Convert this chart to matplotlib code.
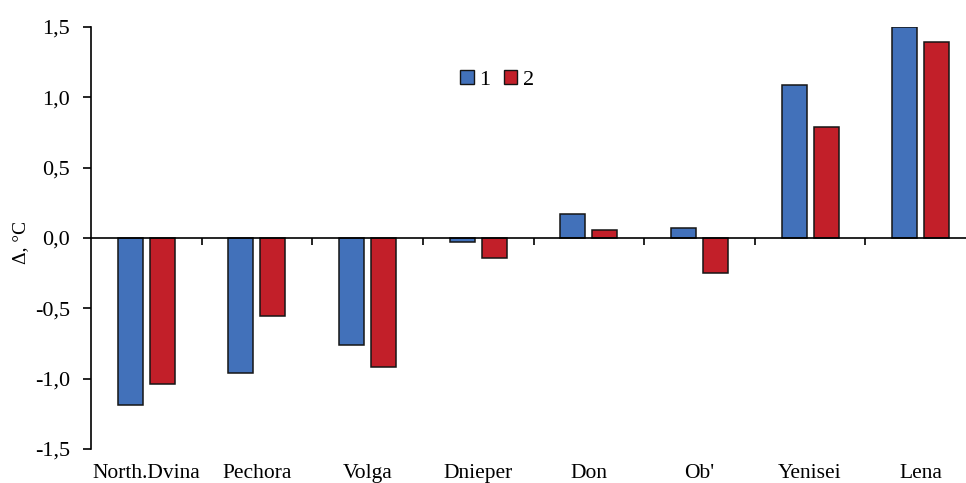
import matplotlib
matplotlib.use("Agg")
import matplotlib.pyplot as plt
import numpy as np
from matplotlib.patches import Patch

# River basins and temperature anomalies (°C) for the two periods
rivers = ["North.Dvina", "Pechora", "Volga", "Dnieper", "Don", "Ob'", "Yenisei", "Lena"]
series_1 = [-1.19, -0.96, -0.76, -0.03, 0.17, 0.07, 1.09, 1.50]
series_2 = [-1.04, -0.555, -0.92, -0.14, 0.06, -0.25, 0.79, 1.39]
series_names = ["1", "2"]
y_ticks = [-1.5, -1.0, -0.5, 0.0, 0.5, 1.0, 1.5]
y_tick_labels = ["-1,5", "-1,0", "-0,5", "0,0", "0,5", "1,0", "1,5"]

plt.rcParams["font.family"] = ["Liberation Serif", "DejaVu Serif"]

blue = "#4271BA"
red = "#C21F29"

fig = plt.figure(figsize=(9.66, 4.83), dpi=100)
ax = fig.add_axes([91 / 966, 34 / 483, 885 / 966, 422 / 483])

n = len(rivers)
centers = np.arange(n) + 0.5
w = 0.226
off = 0.145
ax.bar(centers - off, series_1, width=w, color=blue, edgecolor="#151515", linewidth=1.1, zorder=3)
ax.bar(centers + off, series_2, width=w, color=red, edgecolor="#151515", linewidth=1.1, zorder=3)

ax.set_xlim(0, n)
ax.set_ylim(-1.5, 1.5)

# Horizontal axis crosses at zero, Excel style
for s in ["top", "right"]:
    ax.spines[s].set_visible(False)
ax.spines["bottom"].set_position(("data", 0))
ax.spines["bottom"].set_linewidth(1.2)
ax.spines["left"].set_linewidth(1.2)
ax.spines["bottom"].set_zorder(4)

ax.set_xticks(np.arange(1, n))
ax.set_xticklabels([])
ax.tick_params(axis="x", direction="out", length=5, width=1.2)

ax.set_yticks(y_ticks)
ax.set_yticklabels(y_tick_labels, fontsize=16)
ax.tick_params(axis="y", direction="out", length=6, width=1.2, pad=9)

for c, name in zip(centers, rivers):
    ax.text(c, -0.057, name, transform=ax.get_xaxis_transform(),
            ha="center", va="center", fontsize=15.5)

fig.text(21 / 966, 1 - 242 / 483, "Δ, °C", rotation=90, ha="center", va="center", fontsize=14)

handles = [Patch(facecolor=blue, edgecolor="#151515", linewidth=1.0),
           Patch(facecolor=red, edgecolor="#151515", linewidth=1.0)]
fig.legend(handles, series_names, loc="center", bbox_to_anchor=(497 / 966, 1 - 80 / 483),
           ncol=2, frameon=False, fontsize=16, handlelength=0.6, handleheight=0.6,
           handletextpad=0.25, columnspacing=0.6)

fig.savefig("out.png", dpi=100)
